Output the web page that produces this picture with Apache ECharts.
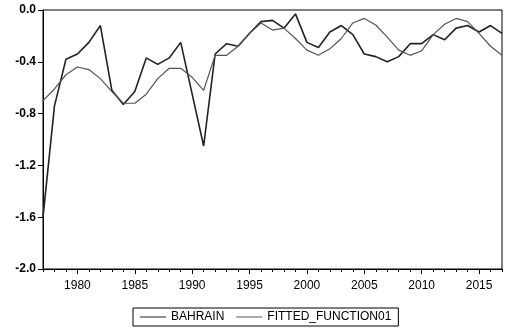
<!DOCTYPE html>
<html>
<head>
<meta charset="utf-8">
<script src="https://cdn.jsdelivr.net/npm/echarts@6/dist/echarts.min.js"></script>
<style>
html,body{margin:0;padding:0;background:#fff;}
#chart{width:505px;height:330px;}
</style>
</head>
<body>
<div id="chart"></div>
<script>
var years = [1977,1978,1979,1980,1981,1982,1983,1984,1985,1986,1987,1988,1989,1990,1991,1992,1993,1994,1995,1996,1997,1998,1999,2000,2001,2002,2003,2004,2005,2006,2007,2008,2009,2010,2011,2012,2013,2014,2015,2016,2017];
var bahrain = [-1.60,-0.74,-0.38,-0.34,-0.25,-0.12,-0.62,-0.73,-0.63,-0.37,-0.42,-0.37,-0.25,-0.65,-1.05,-0.34,-0.26,-0.28,-0.18,-0.09,-0.08,-0.14,-0.03,-0.25,-0.29,-0.17,-0.12,-0.19,-0.34,-0.36,-0.40,-0.36,-0.26,-0.26,-0.19,-0.23,-0.14,-0.12,-0.17,-0.12,-0.18];
var fitted = [-0.70,-0.61,-0.50,-0.44,-0.46,-0.53,-0.63,-0.72,-0.72,-0.65,-0.53,-0.45,-0.45,-0.52,-0.62,-0.35,-0.35,-0.28,-0.18,-0.10,-0.155,-0.14,-0.22,-0.31,-0.35,-0.30,-0.22,-0.10,-0.065,-0.116,-0.21,-0.31,-0.35,-0.315,-0.19,-0.11,-0.065,-0.09,-0.18,-0.28,-0.35];
var xTickLabels = [1980,1985,1990,1995,2000,2005,2010,2015];
var yTicks = [-2.0,-1.6,-1.2,-0.8,-0.4,0.0];
var seriesNames = ['BAHRAIN','FITTED_FUNCTION01'];

function pairs(xs, ys){ return xs.map(function(x,i){ return [x, ys[i]]; }); }

var chart = echarts.init(document.getElementById('chart'), null, {renderer:'canvas'});
var font = 'Liberation Sans, Arial, sans-serif';
chart.setOption({
  animation: false,
  backgroundColor: '#fff',
  grid: {left: 43, right: 3, top: 10, bottom: 61, show: true, borderColor: '#000', borderWidth: 1, backgroundColor: 'transparent'},
  legend: {
    data: seriesNames,
    left: 133, top: 308,
    padding: [3, 7, 3, 7],
    borderColor: '#000', borderWidth: 1,
    itemGap: 12,
    itemWidth: 26, itemHeight: 1,
    icon: 'rect',
    textStyle: {fontFamily: font, fontSize: 12, color: '#000'}
  },
  xAxis: [
    {
      type: 'value', min: years[0], max: years[years.length-1], position: 'bottom',
      splitLine: {show: false},
      axisLine: {show: true, onZero: false, lineStyle: {color: '#000', width: 1}},
      axisTick: {show: true, customValues: xTickLabels, length: 5, lineStyle: {color: '#000'}},
      axisLabel: {show: true, customValues: xTickLabels, margin: 11, fontFamily: font, fontSize: 12, color: '#000', formatter: function(v){ return String(v); }}
    },
    {
      type: 'value', min: years[0], max: years[years.length-1], position: 'bottom',
      splitLine: {show: false},
      axisLine: {show: false, onZero: false},
      axisTick: {show: true, customValues: years, length: 3, lineStyle: {color: '#000'}},
      axisLabel: {show: false}
    }
  ],
  yAxis: {
    type: 'value', min: yTicks[0], max: yTicks[yTicks.length-1], interval: 0.4,
    splitLine: {show: false},
    axisLine: {show: true, onZero: false, lineStyle: {color: '#000', width: 1}},
    axisTick: {show: true, length: 5, lineStyle: {color: '#000'}},
    axisLabel: {margin: 7, fontFamily: font, fontSize: 12, fontWeight: 'bold', color: '#000', formatter: function(v){ return v.toFixed(1); }}
  },
  series: [
    {name: seriesNames[0], type: 'line', xAxisIndex: 0, data: pairs(years, bahrain), showSymbol: false, symbol: 'none',
     lineStyle: {color: '#222', width: 1.6}, itemStyle: {color: '#222'}},
    {name: seriesNames[1], type: 'line', xAxisIndex: 0, data: pairs(years, fitted), showSymbol: false, symbol: 'none',
     lineStyle: {color: '#555', width: 1.2}, itemStyle: {color: '#555'}}
  ]
});
</script>
</body>
</html>
